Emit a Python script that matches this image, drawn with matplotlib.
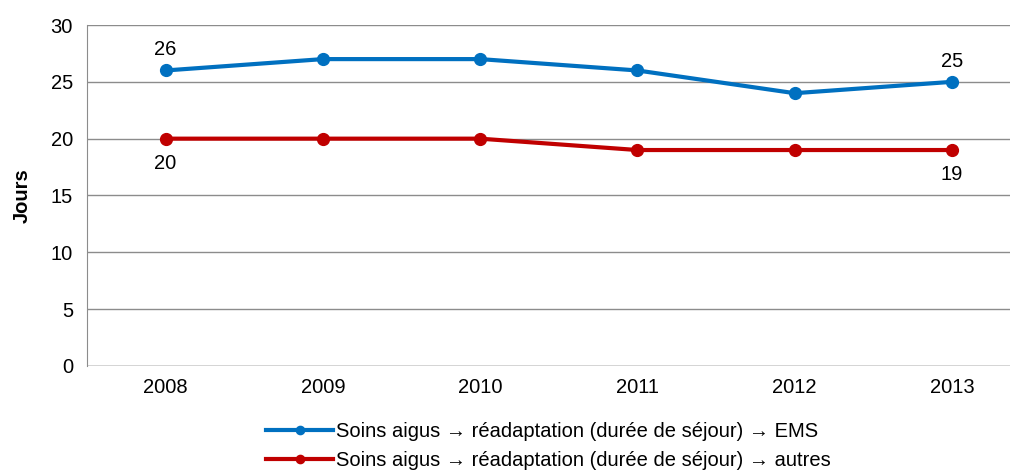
import matplotlib.pyplot as plt

plt.rcParams['font.family'] = ['Liberation Sans', 'DejaVu Sans']

years = ['2008', '2009', '2010', '2011', '2012', '2013']
ems = [26, 27, 27, 26, 24, 25]
autres = [20, 20, 20, 19, 19, 19]
label_ems = 'Soins aigus \u2192 réadaptation (durée de séjour) \u2192 EMS'
label_autres = 'Soins aigus \u2192 réadaptation (durée de séjour) \u2192 autres'

blue = '#0070C0'
red = '#C00000'
fs = 14.5

fig = plt.figure(figsize=(10.17, 4.70), dpi=100)
ax = fig.add_axes([0.0855, 0.2213, 0.9075, 0.7255])

x = range(len(years))
ax.plot(x, ems, color=blue, lw=3, marker='o', ms=8.5, label=label_ems)
ax.plot(x, autres, color=red, lw=3, marker='o', ms=8.5, label=label_autres)

# data labels on first and last points
for i in (0, len(years) - 1):
    ax.annotate(str(ems[i]), (i, ems[i]), xytext=(0, 8), textcoords='offset points',
                ha='center', va='bottom', fontsize=fs)
    ax.annotate(str(autres[i]), (i, autres[i]), xytext=(0, -11), textcoords='offset points',
                ha='center', va='top', fontsize=fs)

ax.set_xlim(-0.5, 5.368)
ax.set_ylim(0, 30)
ax.set_yticks(range(0, 31, 5))
ax.set_xticks(list(x))
ax.set_xticklabels(years)
ax.tick_params(labelsize=fs, length=0)
ax.tick_params(axis='y', pad=10)
ax.tick_params(axis='x', pad=9)
ax.yaxis.grid(True, color='#8c8c8c', lw=1)
ax.set_axisbelow(True)
for s in ['top', 'right', 'bottom']:
    ax.spines[s].set_visible(False)
ax.spines['left'].set_color('#8c8c8c')
ax.axhline(0, color='#8c8c8c', lw=1)
ax.set_ylabel('Jours', fontsize=fs, fontweight='bold', labelpad=14)

leg = ax.legend(loc='upper center', bbox_to_anchor=(0.5, -0.14), ncol=1, frameon=False,
                fontsize=fs, handlelength=3.3, handletextpad=0.15, labelspacing=0.5,
                borderaxespad=0, markerscale=0.7)

fig.savefig('out.png', dpi=100)
